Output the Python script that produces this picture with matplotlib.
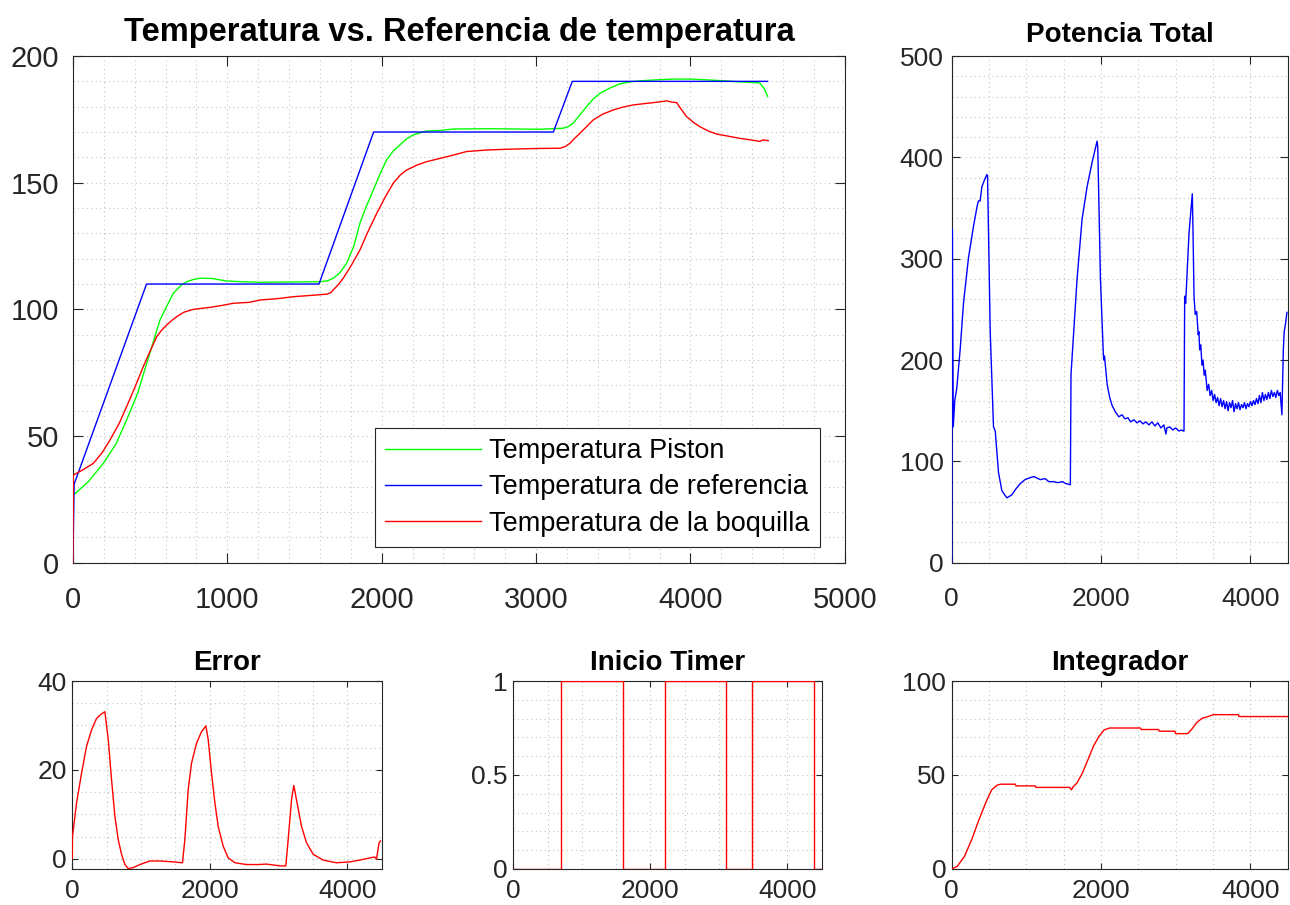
import matplotlib.pyplot as plt
from matplotlib.ticker import MultipleLocator

plt.rcParams['font.family'] = ['Liberation Sans', 'DejaVu Sans']

# temperaturas (muestra, grados)
ref_x = [0, 8, 477, 1594, 1948, 3112, 3235, 4500]
ref_y = [0, 31, 110, 110, 170, 170, 190, 190]

piston_x = [0, 3, 100, 197, 280, 348, 420, 478, 520, 564, 610, 650, 700, 737, 780,
            823, 900, 996, 1100, 1212, 1400, 1600, 1650, 1687, 1730, 1773, 1820,
            1859, 1900, 1946, 1990, 2032, 2075, 2118, 2160, 2205, 2292, 2378, 2467,
            2700, 3025, 3176, 3210, 3241, 3280, 3327, 3370, 3414, 3480, 3543, 3610,
            3672, 3780, 3889, 4000, 4105, 4220, 4321, 4429, 4450, 4480, 4500]
piston_y = [0, 26.7, 32, 39.2, 47, 56.3, 67, 78.7, 87, 95.8, 101.5, 106.3, 109.5,
            110.9, 111.8, 112.3, 112.2, 111.2, 110.9, 110.7, 110.8, 110.9, 111.3,
            112.3, 114.5, 118.2, 125, 134, 140.5, 147.1, 153.5, 159, 162.5, 164.9,
            167.2, 168.9, 170.4, 170.6, 171.2, 171.3, 171.1, 171.5, 172.2, 173.5,
            176.5, 180, 183, 185.3, 187.4, 189, 189.8, 190.2, 190.6, 190.9, 190.9,
            190.6, 190.2, 189.8, 189.5, 189.3, 187, 184]

nozzle_x = [0, 3, 60, 132, 190, 240, 300, 348, 400, 456, 500, 543, 575, 607, 640,
            672, 720, 780, 888, 960, 1039, 1147, 1212, 1320, 1428, 1540, 1644, 1670,
            1687, 1720, 1751, 1800, 1859, 1910, 1968, 2020, 2075, 2120, 2162, 2230,
            2292, 2378, 2464, 2550, 2680, 2810, 3000, 3155, 3190, 3220, 3250, 3284,
            3330, 3371, 3430, 3500, 3560, 3630, 3700, 3759, 3800, 3846, 3880, 3911,
            3940, 3975, 4020, 4061, 4120, 4170, 4250, 4321, 4400, 4450, 4470, 4504]
nozzle_y = [0, 34.6, 36.5, 39.2, 43.5, 48.4, 55, 61.6, 69, 77.4, 83.5, 89.2, 91.8,
            93.8, 95.6, 97.1, 98.9, 100, 100.8, 101.5, 102.4, 102.8, 103.7, 104.2,
            105, 105.5, 106, 106.6, 107.7, 109.8, 112.3, 117, 123.4, 130.5, 137.9,
            144, 149.8, 153, 155, 157, 158.3, 159.6, 160.9, 162.3, 162.9, 163.2,
            163.5, 163.6, 164.3, 165.6, 167.5, 169.5, 172.3, 174.8, 177, 178.7,
            179.8, 180.7, 181.2, 181.6, 181.9, 182.3, 181.8, 181.6, 179, 176.1,
            173.8, 172.1, 170.3, 169.2, 168.3, 167.5, 166.8, 166.3, 166.9, 166.6]

# potencia total
power_x = [0, 8, 20, 40, 67, 112, 157, 224, 291, 340, 358, 380, 403, 440, 470, 479,
           515, 559, 582, 626, 671, 738, 805, 860, 917, 980, 1051, 1100, 1186, 1250,
           1300, 1365, 1420, 1480, 1530, 1588, 1597, 1633, 1678, 1745, 1812, 1879,
           1946, 1955, 1991, 2030, 2036, 2045, 2081, 2115, 2148, 2190, 2237, 2280,
           2320, 2360, 2394, 2440, 2480, 2520, 2560, 2600, 2640, 2680, 2720, 2760,
           2800, 2840, 2868, 2880, 2920, 2960, 3000, 3040, 3080, 3101, 3110, 3119,
           3132, 3177, 3221, 3230, 3244, 3260, 3280, 3300, 3310, 3320, 3335, 3350,
           3365, 3380, 3395, 3420, 3440, 3460, 3480, 3500, 3520, 3540, 3560, 3580,
           3600, 3620, 3640, 3660, 3680, 3700, 3720, 3740, 3760, 3780, 3800, 3820,
           3840, 3860, 3880, 3900, 3920, 3940, 3960, 3980, 4000, 4020, 4040, 4060,
           4080, 4100, 4120, 4140, 4160, 4180, 4200, 4220, 4240, 4260, 4280, 4300,
           4320, 4340, 4360, 4380, 4398, 4421, 4440, 4452, 4470, 4488]
power_y = [0, 329, 134, 160, 172, 210, 256, 301, 332, 352, 357, 357, 371, 378, 383,
           382, 228, 134, 130, 89, 71, 64, 67, 73, 78, 82, 84, 85, 82, 83, 80, 80,
           79, 80, 78, 77, 186, 228, 280, 339, 371, 395, 416, 410, 280, 205, 200,
           204, 176, 163, 155, 149, 144, 146, 142, 143, 139, 141, 138, 140, 137,
           139, 136, 139, 135, 138, 133, 136, 127, 133, 134, 131, 133, 130, 131,
           130, 130, 263, 256, 325, 364, 330, 263, 245, 248, 225, 228, 210, 215,
           195, 200, 185, 190, 170, 176, 165, 170, 160, 166, 158, 163, 155, 162,
           154, 160, 152, 159, 150, 158, 153, 160, 149, 157, 152, 158, 151, 156,
           153, 158, 152, 157, 154, 159, 155, 160, 156, 162, 157, 165, 158, 168,
           160, 166, 161, 168, 162, 170, 164, 168, 163, 170, 165, 168, 146, 210,
           228, 236, 247]

# error
err_x = [0, 3, 63, 136, 208, 281, 354, 427, 475, 524, 572, 620, 669, 717, 766, 814,
         887, 984, 1129, 1275, 1469, 1604, 1638, 1687, 1735, 1808, 1881, 1944, 1978,
         2026, 2075, 2123, 2196, 2269, 2366, 2535, 2700, 2826, 3020, 3107, 3141,
         3190, 3223, 3262, 3335, 3408, 3505, 3650, 3844, 4038, 4183, 4329, 4401,
         4426, 4464, 4484]
err_y = [0, 5, 12.6, 19.3, 25.3, 29, 31.6, 32.6, 33.1, 26.8, 17.8, 9.6, 4.3, 1.0,
         -1.3, -2.2, -2.0, -1.3, -0.5, -0.5, -0.7, -0.9, 4.3, 15.6, 21.5, 26, 28.6,
         29.9, 26.8, 19.3, 12.6, 7.3, 2.8, 0.2, -0.9, -1.3, -1.3, -1.2, -1.6, -1.6,
         4.3, 13.3, 16.5, 13.3, 7.3, 3.6, 1.0, -0.3, -0.9, -0.7, -0.3, 0.2, 0.4,
         -0.1, 3.6, 4]

# inicio timer
timer_x = [0, 693, 693, 1600, 1600, 2210, 2210, 3102, 3102, 3490, 3490, 4387, 4387, 4500]
timer_y = [0, 0, 1, 1, 0, 0, 1, 1, 0, 0, 1, 1, 0, 0]

# integrador
integ_x = [0, 73, 170, 267, 364, 462, 534, 607, 656, 850, 860, 1118, 1127, 1579,
           1603, 1628, 1676, 1749, 1822, 1895, 1968, 2041, 2114, 2527, 2536, 2770,
           2779, 2988, 2998, 3158, 3207, 3280, 3353, 3401, 3484, 3499, 3839, 3848, 4500]
integ_y = [0, 1.4, 6.7, 15.6, 26.2, 35.9, 42.1, 44.6, 45.1, 45.1, 44.2, 44.2, 43.4,
           43.4, 42.1, 43.9, 45.7, 51, 58, 65.1, 70.4, 74, 75, 75, 74.2, 74.2, 73.3,
           73.3, 72, 72, 74, 77.9, 80.2, 80.7, 81.8, 82.1, 82.1, 81.1, 81.1]

EDGE = '#262626'
GRID = '#c4c4c4'


def style(ax, xmajor, xminor, ymajor, yminor, ticklen, size, xpad, ypad):
    ax.xaxis.set_major_locator(MultipleLocator(xmajor))
    ax.xaxis.set_minor_locator(MultipleLocator(xminor))
    ax.yaxis.set_major_locator(MultipleLocator(ymajor))
    ax.yaxis.set_minor_locator(MultipleLocator(yminor))
    ax.grid(which='both', linestyle=(0, (1, 3)), color=GRID, linewidth=0.8)
    ax.tick_params(which='major', direction='in', top=True, right=True,
                   length=ticklen, width=0.8, color=EDGE, labelcolor=EDGE,
                   labelsize=size)
    ax.tick_params(axis='x', pad=xpad)
    ax.tick_params(axis='y', pad=ypad)
    ax.tick_params(which='minor', length=0)
    for s in ax.spines.values():
        s.set_color(EDGE)
        s.set_linewidth(0.8)
    ax.set_axisbelow(True)


fig = plt.figure(figsize=(12.9, 9.05), dpi=100)

ax_main = fig.add_axes([0.0565, 0.3782, 0.5984, 0.5599])
ax_pow = fig.add_axes([0.7378, 0.3782, 0.2605, 0.5599])
ax_err = fig.add_axes([0.0560, 0.0398, 0.2398, 0.2077])
ax_tim = fig.add_axes([0.3979, 0.0398, 0.2390, 0.2077])
ax_int = fig.add_axes([0.7378, 0.0398, 0.2605, 0.2077])

lw = 1.0
ax_main.plot(piston_x, piston_y, color='#00ff00', lw=lw, zorder=3,
             label='Temperatura Piston')
ax_main.plot(ref_x, ref_y, color='#0000ff', lw=lw, zorder=3,
             label='Temperatura de referencia')
ax_main.plot(nozzle_x, nozzle_y, color='#ff0000', lw=lw, zorder=3,
             label='Temperatura de la boquilla')
ax_main.set_xlim(0, 5000)
ax_main.set_ylim(0, 200)
style(ax_main, 1000, 200, 50, 10, 7, 21, 16.5, 10)
ax_main.set_title('Temperatura vs. Referencia de temperatura', fontsize=23.5,
                  fontweight='bold', pad=11)
leg = ax_main.legend(loc='lower right', bbox_to_anchor=(0.968, 0.031), fontsize=19.5,
                     fancybox=False, framealpha=1, edgecolor=EDGE,
                     handlelength=3.55, handletextpad=0.3, labelspacing=0.38,
                     borderpad=0.38, borderaxespad=0)
leg.get_frame().set_linewidth(0.8)

ax_pow.plot(power_x, power_y, color='#0000ff', lw=lw, zorder=3)
ax_pow.set_xlim(0, 4500)
ax_pow.set_ylim(0, 500)
style(ax_pow, 2000, 500, 100, 20, 5.5, 19, 17.5, 6)
ax_pow.set_title('Potencia Total', fontsize=20, fontweight='bold', pad=10)

ax_err.plot(err_x, err_y, color='#ff0000', lw=lw, zorder=3)
ax_err.set_xlim(0, 4500)
ax_err.set_ylim(-2.3, 40)
style(ax_err, 2000, 500, 20, 5, 4, 19, 7.5, 4)
ax_err.set_title('Error', fontsize=20, fontweight='bold', pad=8)

ax_tim.plot(timer_x, timer_y, color='#ff0000', lw=lw, zorder=3)
ax_tim.set_xlim(0, 4500)
ax_tim.set_ylim(0, 1)
style(ax_tim, 2000, 500, 0.5, 0.1, 4, 19, 7.5, 4)
ax_tim.set_yticks([0, 0.5, 1])
ax_tim.set_yticklabels(['0', '0.5', '1'])
ax_tim.set_title('Inicio Timer', fontsize=20, fontweight='bold', pad=8)

ax_int.plot(integ_x, integ_y, color='#ff0000', lw=lw, zorder=3)
ax_int.set_xlim(0, 4500)
ax_int.set_ylim(0, 100)
style(ax_int, 2000, 500, 50, 10, 4, 19, 7.5, 4)
ax_int.set_title('Integrador', fontsize=20, fontweight='bold', pad=8)

fig.savefig('out.png', dpi=100)
